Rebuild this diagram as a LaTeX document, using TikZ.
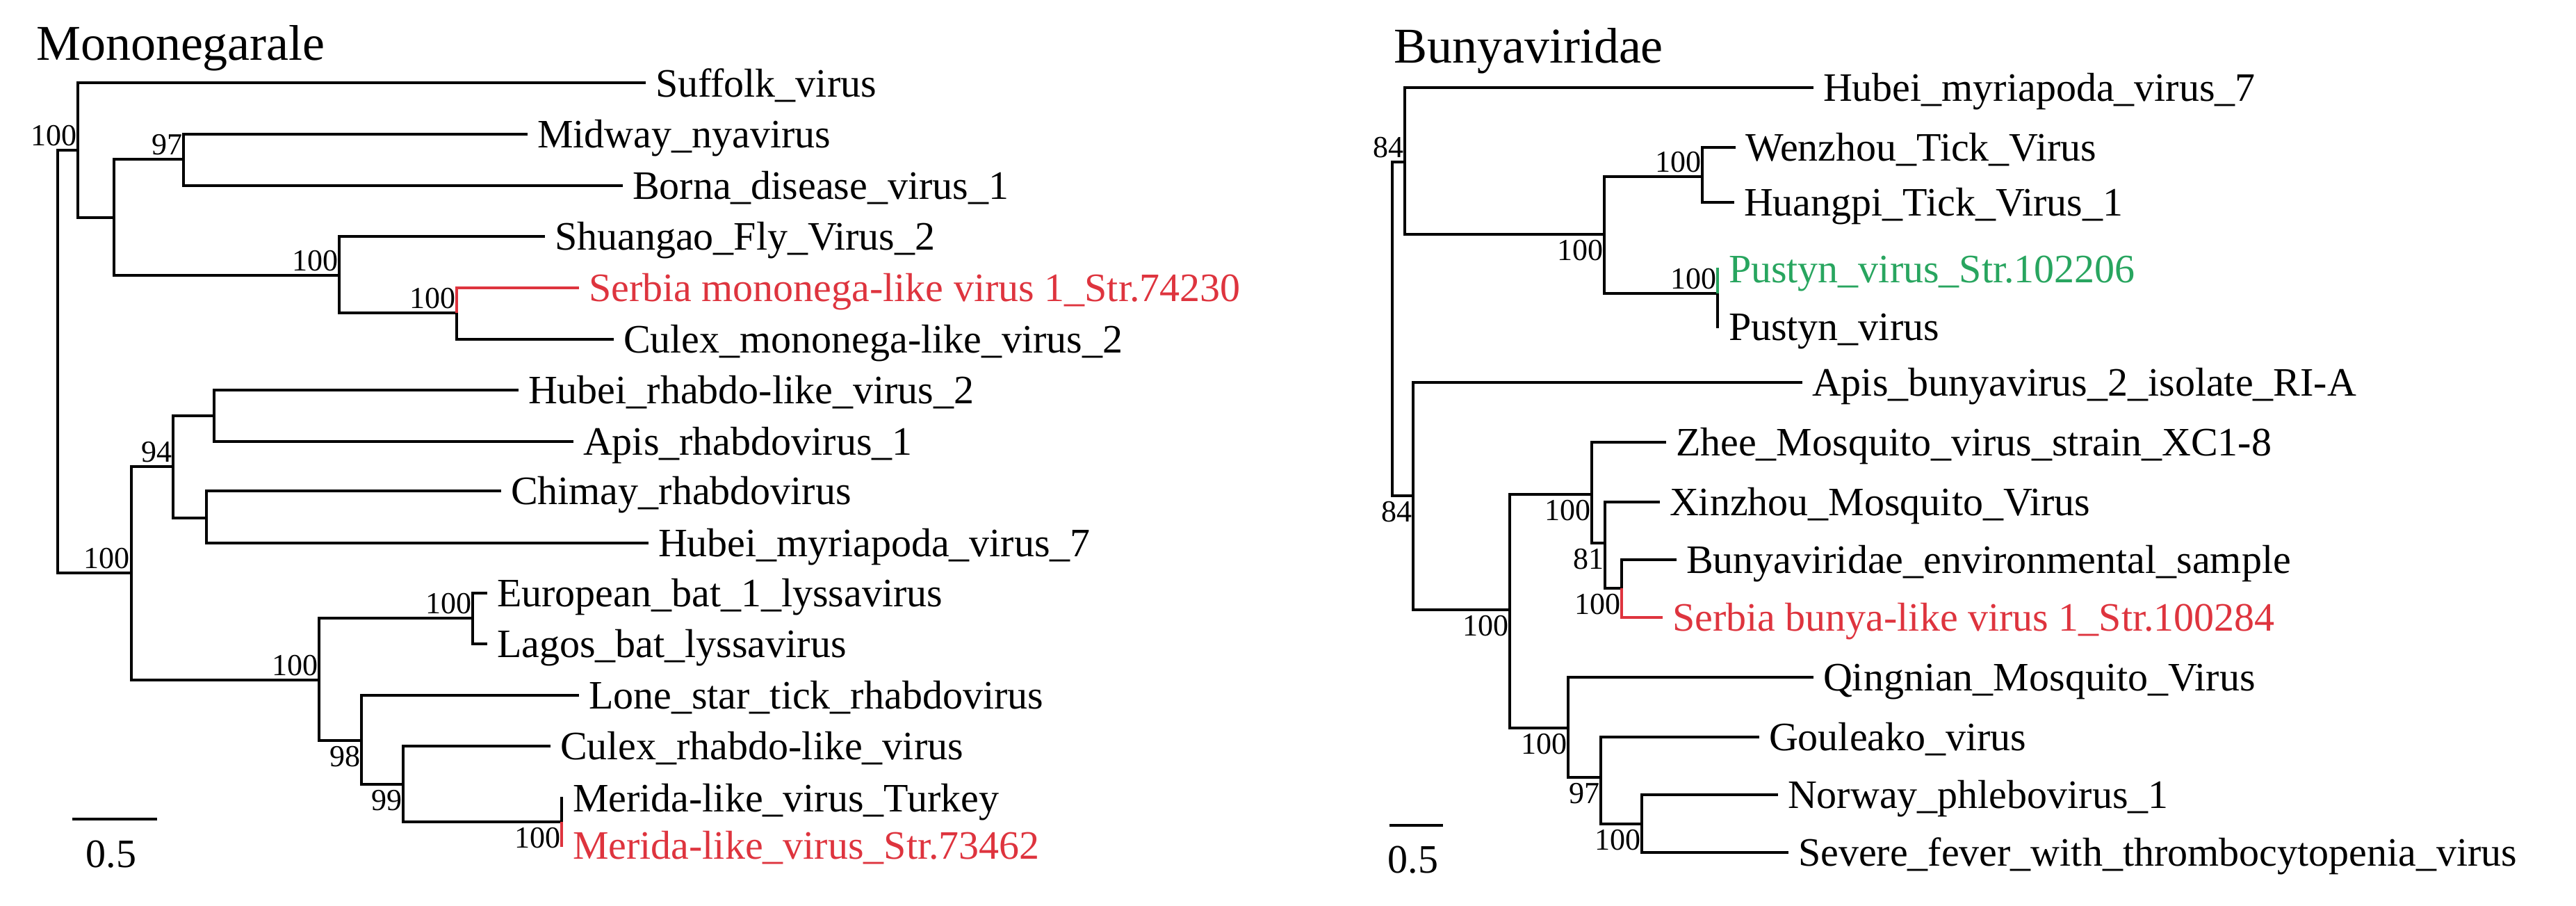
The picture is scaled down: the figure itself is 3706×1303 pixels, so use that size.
\documentclass[tikz,border=0pt]{standalone}
\usepackage{fontspec}
\setmainfont{Liberation Serif}
\definecolor{hired}{RGB}{222,52,62}
\definecolor{higreen}{RGB}{40,165,95}
\begin{document}
\begin{tikzpicture}[x=0.25pt,y=-0.25pt,line width=1pt,
  leaf/.style={anchor=base west,inner sep=0pt,xshift=3pt,yshift=-4.9pt,font=\fontsize{14.5}{16}\selectfont},
  title/.style={anchor=base west,inner sep=0pt,font=\fontsize{18}{20}\selectfont},
  bsa/.style={anchor=base east,inner sep=0pt,yshift=1.5pt,font=\fontsize{11}{12}\selectfont},
  bsb/.style={anchor=north east,inner sep=0pt,yshift=-1.5pt,font=\fontsize{11}{12}\selectfont},
  red/.style={draw=hired,text=hired}]
\useasboundingbox (0,0) rectangle (3706,1303);
% ---------------- Left tree ----------------
\node[title] (t1) at (50,87) {Mononegarale};
\coordinate (L0) at (83,520);
\coordinate (A) at (112,216);
\coordinate (B) at (164,313);
\coordinate (C) at (264,229);
\coordinate (D) at (488,396);
\coordinate (E) at (657,450);
\coordinate (I) at (189,824);
\coordinate (G) at (249,671);
\coordinate (F) at (308,598);
\coordinate (H) at (297,745);
\coordinate (J) at (459,978);
\coordinate (K) at (680,889);
\coordinate (L) at (520,1065);
\coordinate (M) at (580,1128);
\coordinate (N) at (808,1182);
\coordinate (l1) at (929,119.5);
\coordinate (l2) at (759,193);
\coordinate (l3) at (896,267);
\coordinate (l4) at (784,340);
\coordinate (l5) at (833,414);
\coordinate (l6) at (883,488);
\coordinate (l7) at (746,561);
\coordinate (l8) at (825,635);
\coordinate (l9) at (721,706);
\coordinate (l10) at (933,781);
\coordinate (l11) at (701,853);
\coordinate (l12) at (701,926);
\coordinate (l13) at (833,1000);
\coordinate (l14) at (792,1073);
\coordinate (l15) at (810,1148);
\coordinate (l16) at (810,1216);
\draw (L0) |- (A); \draw (L0) |- (I);
\draw (A) |- (l1); \draw (A) |- (B);
\draw (B) |- (C); \draw (B) |- (D);
\draw (C) |- (l2); \draw (C) |- (l3);
\draw (D) |- (l4); \draw (D) |- (E);
\draw[hired] (E) |- (l5); \draw (E) |- (l6);
\draw (I) |- (G); \draw (I) |- (J);
\draw (G) |- (F); \draw (G) |- (H);
\draw (F) |- (l7); \draw (F) |- (l8);
\draw (H) |- (l9); \draw (H) |- (l10);
\draw (J) |- (K); \draw (J) |- (L);
\draw (K) |- (l11); \draw (K) |- (l12);
\draw (L) |- (l13); \draw (L) |- (M);
\draw (M) |- (l14); \draw (M) |- (N);
\draw (N) |- (l15); \draw[hired] (N) |- (l16);
\node[leaf] (n1) at (l1) {Suffolk\_virus};
\node[leaf] (n2) at (l2) {Midway\_nyavirus};
\node[leaf] (n3) at (l3) {Borna\_disease\_virus\_1};
\node[leaf] (n4) at (l4) {Shuangao\_Fly\_Virus\_2};
\node[leaf,text=hired] (n5) at (l5) {Serbia mononega-like virus 1\_Str.74230};
\node[leaf] (n6) at (l6) {Culex\_mononega-like\_virus\_2};
\node[leaf] (n7) at (l7) {Hubei\_rhabdo-like\_virus\_2};
\node[leaf] (n8) at (l8) {Apis\_rhabdovirus\_1};
\node[leaf] (n9) at (l9) {Chimay\_rhabdovirus};
\node[leaf] (n10) at (l10) {Hubei\_myriapoda\_virus\_7};
\node[leaf] (n11) at (l11) {European\_bat\_1\_lyssavirus};
\node[leaf] (n12) at (l12) {Lagos\_bat\_lyssavirus};
\node[leaf] (n13) at (l13) {Lone\_star\_tick\_rhabdovirus};
\node[leaf] (n14) at (l14) {Culex\_rhabdo-like\_virus};
\node[leaf] (n15) at (l15) {Merida-like\_virus\_Turkey};
\node[leaf,text=hired] (n16) at (l16) {Merida-like\_virus\_Str.73462};
\node[bsa] (bA) at (A) {100};
\node[bsa] (bC) at (C) {97};
\node[bsa] (bD) at (D) {100};
\node[bsa] (bE) at (E) {100};
\node[bsa] (bG) at (G) {94};
\node[bsa] (bI) at (I) {100};
\node[bsa] (bJ) at (J) {100};
\node[bsa] (bK) at (K) {100};
\node[bsb] (bL) at (L) {98};
\node[bsb] (bM) at (M) {99};
\node[bsb] (bN) at (N) {100};
\coordinate (s1a) at (104,1178); \coordinate (s1b) at (226,1178);
\draw (s1a) -- (s1b);
\node[anchor=base,inner sep=0pt,font=\fontsize{14.5}{16}\selectfont] (s1t) at (160,1247) {0.5};
% ---------------- Right tree ----------------
\node[title] (t2) at (2003,91) {Bunyaviridae};
\coordinate (R) at (2003,473);
\coordinate (S) at (2021,233);
\coordinate (T) at (2308,337);
\coordinate (U) at (2449,254);
\coordinate (V) at (2471,422);
\coordinate (W) at (2033,713);
\coordinate (X) at (2172,877);
\coordinate (Y) at (2290,711);
\coordinate (Z) at (2309,781);
\coordinate (AA) at (2333,846);
\coordinate (AB) at (2256,1047);
\coordinate (AC) at (2303,1118);
\coordinate (AD) at (2362,1185);
\coordinate (r1) at (2609,126);
\coordinate (r2) at (2497,212);
\coordinate (r3) at (2495,291);
\coordinate (r4) at (2473,387);
\coordinate (r5) at (2473,470);
\coordinate (r6) at (2593,550);
\coordinate (r7) at (2397,636);
\coordinate (r8) at (2388,722);
\coordinate (r9) at (2412,805);
\coordinate (r10) at (2392,888);
\coordinate (r11) at (2609,974);
\coordinate (r12) at (2531,1060);
\coordinate (r13) at (2558,1143);
\coordinate (r14) at (2573,1226);
\draw (R) |- (S); \draw (R) |- (W);
\draw (S) |- (r1); \draw (S) |- (T);
\draw (T) |- (U); \draw (T) |- (V);
\draw (U) |- (r2); \draw (U) |- (r3);
\draw[higreen] (V) |- (r4); \draw (V) |- (r5);
\draw (W) |- (r6); \draw (W) |- (X);
\draw (X) |- (Y); \draw (X) |- (AB);
\draw (Y) |- (r7); \draw (Y) |- (Z);
\draw (Z) |- (r8); \draw (Z) |- (AA);
\draw (AA) |- (r9); \draw[hired] (AA) |- (r10);
\draw (AB) |- (r11); \draw (AB) |- (AC);
\draw (AC) |- (r12); \draw (AC) |- (AD);
\draw (AD) |- (r13); \draw (AD) |- (r14);
\node[leaf] (m1) at (r1) {Hubei\_myriapoda\_virus\_7};
\node[leaf] (m2) at (r2) {Wenzhou\_Tick\_Virus};
\node[leaf] (m3) at (r3) {Huangpi\_Tick\_Virus\_1};
\node[leaf,text=higreen] (m4) at (r4) {Pustyn\_virus\_Str.102206};
\node[leaf] (m5) at (r5) {Pustyn\_virus};
\node[leaf] (m6) at (r6) {Apis\_bunyavirus\_2\_isolate\_RI-A};
\node[leaf] (m7) at (r7) {Zhee\_Mosquito\_virus\_strain\_XC1-8};
\node[leaf] (m8) at (r8) {Xinzhou\_Mosquito\_Virus};
\node[leaf] (m9) at (r9) {Bunyaviridae\_environmental\_sample};
\node[leaf,text=hired] (m10) at (r10) {Serbia bunya-like virus 1\_Str.100284};
\node[leaf] (m11) at (r11) {Qingnian\_Mosquito\_Virus};
\node[leaf] (m12) at (r12) {Gouleako\_virus};
\node[leaf] (m13) at (r13) {Norway\_phlebovirus\_1};
\node[leaf] (m14) at (r14) {Severe\_fever\_with\_thrombocytopenia\_virus};
\node[bsa] (bS) at (S) {84};
\node[bsb] (bT) at (T) {100};
\node[bsa] (bU) at (U) {100};
\node[bsa] (bV) at (V) {100};
\node[bsb] (bW) at (W) {84};
\node[bsb] (bX) at (X) {100};
\node[bsb] (bY) at (Y) {100};
\node[bsb] (bZ) at (Z) {81};
\node[bsb] (bAA) at (AA) {100};
\node[bsb] (bAB) at (AB) {100};
\node[bsb] (bAC) at (AC) {97};
\node[bsb] (bAD) at (AD) {100};
\coordinate (s2a) at (1999,1187); \coordinate (s2b) at (2076,1187);
\draw (s2a) -- (s2b);
\node[anchor=base,inner sep=0pt,font=\fontsize{14.5}{16}\selectfont] (s2t) at (2033,1255) {0.5};
\end{tikzpicture}
\end{document}
